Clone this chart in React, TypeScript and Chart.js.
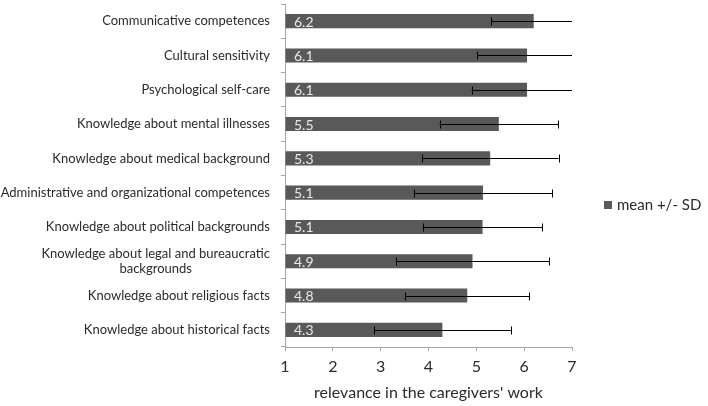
import React, { useEffect, useRef } from "react";
import { Chart, registerables } from "chart.js";

Chart.register(...registerables);

const categories: string[][] = [
  ["Communicative competences"],
  ["Cultural sensitivity"],
  ["Psychological self-care"],
  ["Knowledge about mental illnesses"],
  ["Knowledge about medical background"],
  ["Administrative and organizational competences"],
  ["Knowledge about political backgrounds"],
  ["Knowledge about legal and bureaucratic", "backgrounds"],
  ["Knowledge about religious facts"],
  ["Knowledge about historical facts"],
];
const means = [6.2, 6.06, 6.06, 5.47, 5.29, 5.14, 5.13, 4.92, 4.81, 4.29];
const sds = [0.89, 1.04, 1.16, 1.24, 1.43, 1.45, 1.25, 1.6, 1.3, 1.43];
const xTicks = [1, 2, 3, 4, 5, 6, 7];
const seriesName = "mean +/- SD";
const axisTitle = "relevance in the caregivers' work";

const FONT = "Lato";
const BAR_COLOR = "#595959";
const AXIS_COLOR = "#a6a6a6";
const TEXT_COLOR = "#2b2b2b";

const overlayPlugin = {
  id: "overlay",
  afterDatasetsDraw(chart: any) {
    const { ctx, chartArea } = chart;
    const x = chart.scales.x;
    const meta = chart.getDatasetMeta(0);
    ctx.save();
    meta.data.forEach((bar: any, i: number) => {
      // value label
      ctx.font = `14px ${FONT}`;
      ctx.fillStyle = "#e8e8e8";
      ctx.textAlign = "left";
      ctx.textBaseline = "middle";
      ctx.fillText(means[i].toFixed(1), chartArea.left + 9, bar.y + 1);
      // error bar
      const lo = means[i] - sds[i];
      const hi = means[i] + sds[i];
      const xl = x.getPixelForValue(Math.max(lo, x.min));
      const xh = x.getPixelForValue(Math.min(hi, x.max));
      ctx.strokeStyle = "#000";
      ctx.lineWidth = 1;
      const yy = Math.round(bar.y) + 0.5;
      ctx.beginPath();
      ctx.moveTo(xl, yy);
      ctx.lineTo(xh, yy);
      if (lo >= x.min) {
        const cx = Math.round(xl) + 0.5;
        ctx.moveTo(cx, yy - 4);
        ctx.lineTo(cx, yy + 4);
      }
      if (hi <= x.max) {
        const cx = Math.round(xh) + 0.5;
        ctx.moveTo(cx, yy - 4);
        ctx.lineTo(cx, yy + 4);
      }
      ctx.stroke();
    });
    ctx.restore();
  },
  afterDraw(chart: any) {
    const { ctx } = chart;
    const y = chart.scales.y;
    ctx.save();
    // category labels
    ctx.font = `13px ${FONT}`;
    ctx.fillStyle = TEXT_COLOR;
    ctx.textBaseline = "middle";
    const right = 270;
    const lineH = 15.6;
    categories.forEach((lines, i) => {
      const cy = y.getPixelForValue(i);
      const w = Math.max(...lines.map((l) => ctx.measureText(l).width));
      const startY = cy - ((lines.length - 1) * lineH) / 2;
      lines.forEach((l, k) => {
        if (lines.length > 1) {
          ctx.textAlign = "center";
          ctx.fillText(l, right - w / 2, startY + k * lineH);
        } else {
          ctx.textAlign = "right";
          ctx.fillText(l, right, startY + k * lineH);
        }
      });
    });
    // legend
    ctx.fillStyle = BAR_COLOR;
    ctx.fillRect(604, 201, 8, 8);
    ctx.font = `15px ${FONT}`;
    ctx.fillStyle = TEXT_COLOR;
    ctx.textAlign = "left";
    ctx.fillText(seriesName, 617, 205);
    ctx.restore();
  },
};

export default function App() {
  const ref = useRef<HTMLCanvasElement | null>(null);
  useEffect(() => {
    if (!ref.current) return;
    const chart = new Chart(ref.current, {
      type: "bar",
      data: {
        labels: categories.map((c) => c.join(" ")),
        datasets: [
          {
            label: seriesName,
            data: means,
            base: 1,
            backgroundColor: BAR_COLOR,
            borderWidth: 0,
            barPercentage: 0.41,
            categoryPercentage: 1,
          } as any,
        ],
      },
      options: {
        indexAxis: "y",
        animation: false,
        responsive: true,
        maintainAspectRatio: false,
        layout: { padding: { top: 4, right: 136, left: 0, bottom: 0 } },
        plugins: { legend: { display: false }, tooltip: { enabled: false } },
        scales: {
          x: {
            type: "linear",
            min: xTicks[0],
            max: xTicks[xTicks.length - 1],
            afterBuildTicks: (s: any) => {
              s.ticks = xTicks.map((v) => ({ value: v }));
            },
            afterFit: (s: any) => {
              s.height = 59;
            },
            grid: {
              drawOnChartArea: false,
              drawTicks: true,
              tickLength: 4,
              color: AXIS_COLOR,
            },
            border: { color: AXIS_COLOR },
            ticks: {
              padding: 6,
              color: TEXT_COLOR,
              font: { family: FONT, size: 16 },
            },
            title: {
              display: true,
              text: axisTitle,
              color: TEXT_COLOR,
              font: { family: FONT, size: 16 },
              padding: { top: 0, bottom: 4 },
            },
          },
          y: {
            type: "category",
            offset: true,
            afterFit: (s: any) => {
              s.width = 285;
            },
            grid: {
              offset: true,
              drawOnChartArea: false,
              drawTicks: true,
              tickLength: 4,
              color: AXIS_COLOR,
            },
            border: { color: AXIS_COLOR },
            ticks: { display: false },
          },
        },
      },
      plugins: [overlayPlugin],
    } as any);
    return () => chart.destroy();
  }, []);
  return (
    <div style={{ position: "absolute", left: 0, top: 0, width: 708, height: 406, background: "#fff" }}>
      <canvas ref={ref} />
    </div>
  );
}
